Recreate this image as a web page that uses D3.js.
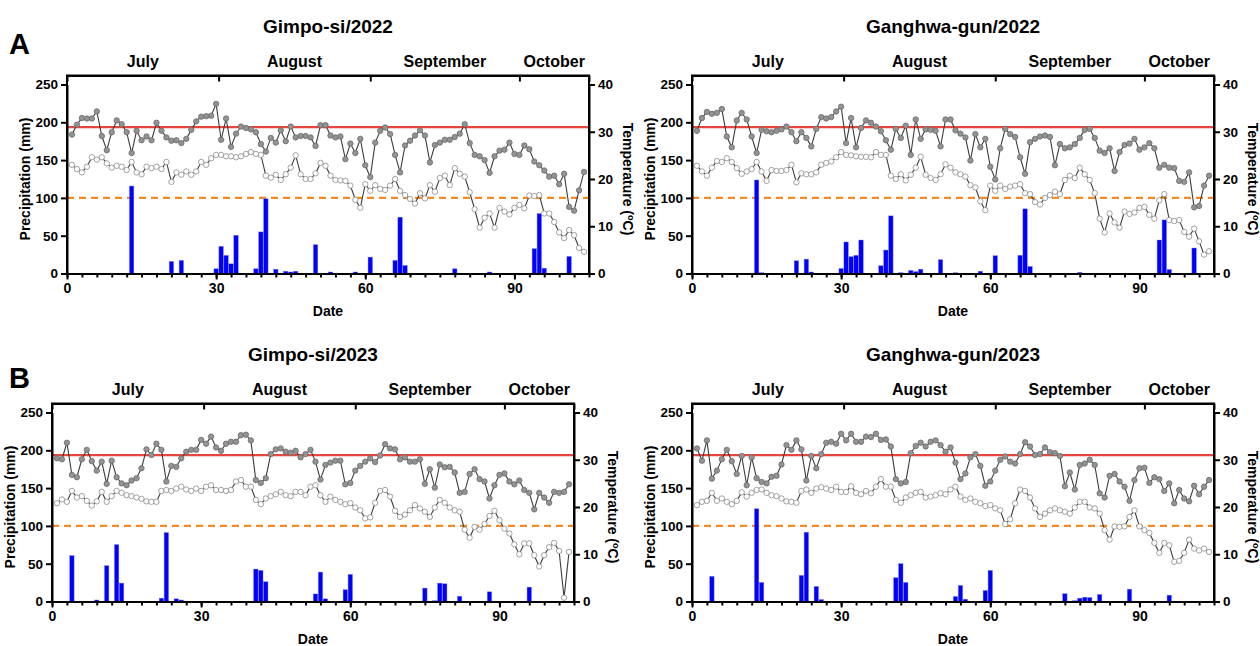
<!DOCTYPE html>
<html>
<head>
<meta charset="utf-8">
<script src="https://cdn.jsdelivr.net/npm/d3@7"></script>
<style>
  body { margin: 0; background: #fff; }
  svg { display: block; font-family: "Liberation Sans", Arial, sans-serif; font-weight: bold; }
  .axis path, .axis line { stroke: #000; stroke-width: 2; }
  .axis text { font-size: 13.5px; font-weight: bold; fill: #000; font-family: "Liberation Sans", Arial, sans-serif; }
</style>
</head>
<body>
<svg id="chart" width="1260" height="646"></svg>
<script>
// ---- data, day 1 = July 1 ----
var titles = ['Gimpo-si/2022', 'Ganghwa-gun/2022', 'Gimpo-si/2023', 'Ganghwa-gun/2023'];
var months = ['July', 'August', 'September', 'October'];
var monthTicks = [0, 30.5, 61, 91, 105];
var precipTicks = [0, 50, 100, 150, 200, 250];
var tempTicks = [0, 10, 20, 30, 40];
var dateTicks = [0, 30, 60, 90];
var tempLimit = 31;      // red line (°C)
var precipLimit = 100;   // orange dashed (mm)

var gimpo22Tmax = [29.4, 31.5, 32.9, 32.8, 32.8, 34.3, 29.1, 26.1, 29.9, 32.4,
  31.6, 29.9, 25.5, 30.2, 28.2, 29.0, 28.2, 31.9, 30.2, 28.8,
  28.1, 28.2, 27.6, 28.5, 30.4, 32.2, 33.2, 33.3, 33.4, 35.9,
  28.3, 32.8, 26.8, 29.6, 31.1, 30.8, 30.5, 29.9, 27.4, 25.8,
  28.7, 27.7, 30.3, 28.0, 31.1, 28.8, 29.1, 29.1, 28.8, 27.0,
  31.4, 31.4, 29.2, 28.8, 29.0, 24.2, 27.5, 25.5, 28.5, 22.9,
  20.4, 27.7, 30.2, 30.9, 29.5, 25.1, 21.4, 27.1, 28.1, 29.2,
  30.3, 29.2, 23.5, 27.2, 27.7, 28.3, 28.3, 28.9, 29.6, 31.6,
  27.6, 25.1, 24.8, 24.0, 21.3, 24.8, 26.0, 26.2, 27.7, 25.3,
  25.1, 27.1, 26.3, 23.7, 22.9, 21.8, 20.5, 20.7, 18.9, 21.1,
  14.1, 13.3, 17.6, 21.5];
var gimpo22Tmin = [23.0, 22.1, 21.4, 22.6, 24.6, 24.1, 24.6, 23.3, 22.4, 22.8,
  22.6, 21.9, 23.6, 21.4, 21.0, 22.6, 22.3, 22.6, 22.1, 23.6,
  19.4, 21.4, 20.9, 21.6, 20.9, 21.6, 23.6, 23.0, 24.4, 25.1,
  25.1, 24.8, 24.8, 24.6, 24.8, 25.3, 25.7, 25.3, 25.1, 20.7,
  20.3, 20.9, 19.8, 21.0, 22.4, 25.0, 21.0, 20.0, 20.0, 21.2,
  23.4, 22.8, 20.7, 19.8, 19.7, 19.6, 18.6, 15.6, 13.9, 18.9,
  17.5, 18.7, 17.9, 17.7, 18.6, 20.0, 17.5, 16.6, 15.8, 14.8,
  17.0, 15.9, 18.7, 17.3, 20.2, 20.7, 18.7, 22.3, 21.1, 20.5,
  17.2, 13.6, 9.7, 11.8, 12.7, 9.7, 13.9, 13.1, 12.5, 13.9,
  14.5, 13.8, 16.5, 16.4, 16.6, 12.7, 12.7, 10.9, 8.7, 7.5,
  9.2, 8.1, 5.4, 4.6];
var gimpo22RainDays = [13, 21, 23, 30, 31, 32, 33, 34, 38, 39, 40, 42, 44, 45, 46, 50, 53, 58, 61, 66, 67, 68, 78, 85, 94, 95, 96, 101];
var gimpo22Rain = [115.7, 15.9, 17.3, 6.2, 35.9, 23.9, 12.8, 50.5, 6.2, 55.0, 98.8, 5.7, 3.0, 2.0, 3.0, 38.1, 2.0, 2.0, 21.7, 17.3, 74.5, 10.6, 6.2, 2.0, 32.8, 79.3, 7.0, 22.6];

var ganghwa22Tmax = [30.2, 32.9, 34.2, 33.8, 34.0, 34.8, 29.0, 26.7, 32.4, 34.0,
  32.6, 29.0, 25.5, 30.4, 30.1, 29.9, 30.2, 30.5, 31.1, 29.9,
  28.0, 29.9, 28.7, 26.9, 30.6, 33.1, 32.8, 33.1, 34.3, 35.3,
  27.6, 32.9, 26.7, 30.8, 32.4, 31.9, 31.1, 30.1, 28.2, 26.2,
  30.6, 28.7, 31.3, 25.1, 32.6, 28.5, 30.5, 30.4, 30.2, 26.9,
  32.6, 32.6, 30.3, 29.6, 28.8, 23.9, 29.5, 26.7, 28.5, 22.6,
  19.9, 26.5, 30.6, 29.5, 28.9, 24.6, 21.1, 27.8, 28.5, 29.0,
  29.2, 28.9, 22.9, 27.4, 26.5, 26.7, 27.4, 28.7, 30.4, 30.6,
  28.7, 26.0, 25.5, 26.5, 21.7, 25.7, 27.2, 27.5, 28.5, 26.2,
  26.7, 27.6, 26.5, 22.4, 23.0, 22.4, 22.3, 19.6, 19.4, 21.4,
  14.0, 14.3, 18.6, 20.7];
var ganghwa22Tmin = [22.8, 21.6, 20.7, 22.4, 23.8, 23.6, 24.4, 23.6, 22.3, 21.1,
  21.6, 22.1, 23.6, 21.6, 19.6, 21.9, 21.7, 21.7, 21.9, 23.0,
  19.3, 21.2, 21.0, 21.0, 21.4, 23.0, 23.4, 23.7, 24.6, 25.7,
  25.1, 25.0, 24.8, 24.7, 24.7, 24.6, 25.7, 25.1, 25.1, 20.7,
  20.0, 21.0, 19.7, 20.9, 22.4, 24.7, 20.9, 20.2, 19.8, 21.0,
  23.1, 22.4, 21.4, 21.0, 20.5, 18.7, 18.2, 15.3, 13.4, 18.6,
  17.5, 18.6, 17.9, 18.4, 18.6, 18.9, 17.0, 16.8, 15.1, 14.6,
  16.0, 16.6, 17.3, 16.8, 19.8, 20.7, 20.2, 22.4, 21.0, 19.8,
  17.0, 11.6, 8.7, 12.7, 10.8, 9.7, 13.1, 12.6, 12.9, 13.9,
  14.1, 12.4, 11.6, 15.5, 16.8, 11.3, 11.1, 11.3, 8.8, 7.8,
  9.5, 6.8, 4.0, 4.7];
var ganghwa22RainDays = [13, 14, 21, 23, 24, 30, 31, 32, 33, 34, 38, 39, 40, 42, 44, 45, 46, 50, 53, 58, 61, 66, 67, 68, 78, 94, 95, 96, 101];
var ganghwa22Rain = [123.7, 1.0, 16.8, 19.0, 2.0, 6.6, 41.7, 22.2, 24.0, 44.3, 10.2, 31.0, 76.2, 1.0, 4.0, 2.5, 5.7, 18.2, 1.0, 3.0, 23.5, 24.0, 85.5, 9.3, 1.5, 44.3, 70.9, 5.3, 33.7];

var gimpo23Tmax = [30.3, 30.1, 33.6, 26.8, 26.3, 30.1, 32.1, 29.7, 27.7, 29.6,
  24.9, 29.8, 26.3, 25.0, 24.6, 25.6, 26.1, 28.2, 32.2, 31.0,
  33.4, 32.1, 25.4, 28.7, 28.5, 30.3, 31.7, 32.1, 32.1, 34.2,
  33.4, 34.9, 32.6, 31.9, 33.4, 33.8, 33.8, 35.2, 35.3, 34.1,
  25.7, 25.1, 26.1, 31.2, 32.2, 32.4, 31.7, 31.5, 31.9, 30.5,
  31.2, 32.1, 29.6, 25.8, 28.9, 29.4, 29.8, 29.8, 24.8, 25.1,
  27.7, 28.7, 29.6, 30.3, 29.5, 30.9, 33.3, 32.4, 32.2, 30.1,
  30.5, 29.6, 29.6, 30.1, 24.9, 28.0, 24.1, 29.0, 28.4, 28.5,
  27.3, 23.0, 23.2, 27.0, 28.0, 25.9, 25.4, 21.8, 24.6, 26.8,
  27.1, 25.4, 24.8, 25.6, 23.6, 23.0, 19.5, 23.0, 22.0, 20.9,
  23.2, 23.0, 23.2, 24.8];
var gimpo23Tmin = [20.8, 21.6, 21.1, 23.4, 22.0, 22.3, 21.3, 20.3, 21.2, 23.2,
  21.1, 22.3, 23.4, 23.0, 22.5, 22.3, 22.0, 21.7, 21.2, 21.1,
  21.1, 23.4, 23.6, 23.4, 23.9, 24.3, 23.7, 23.4, 23.9, 23.4,
  24.3, 24.6, 23.6, 23.6, 23.4, 23.6, 25.4, 25.7, 24.3, 24.3,
  21.5, 20.6, 21.8, 22.3, 22.7, 23.2, 22.5, 22.3, 23.2, 23.2,
  22.5, 24.3, 24.6, 22.5, 21.1, 22.2, 21.5, 21.1, 20.6, 20.8,
  19.9, 19.3, 17.6, 17.8, 20.9, 23.4, 23.6, 22.2, 19.2, 17.9,
  18.4, 19.3, 20.4, 19.7, 19.0, 17.9, 19.9, 21.5, 20.9, 19.9,
  19.3, 19.0, 15.2, 13.5, 15.8, 15.2, 16.4, 18.1, 19.2, 17.2,
  15.4, 14.4, 12.1, 10.0, 12.3, 12.3, 9.8, 7.4, 9.8, 11.5,
  12.4, 10.7, 0.8, 10.5];
var gimpo23RainDays = [4, 9, 11, 13, 14, 22, 23, 25, 26, 41, 42, 43, 53, 54, 55, 59, 60, 75, 77, 78, 79, 82, 88, 96];
var gimpo23Rain = [60.6, 2.0, 47.3, 75.2, 24.3, 4.4, 91.1, 3.5, 2.0, 42.9, 41.1, 26.1, 10.0, 38.9, 3.5, 15.5, 35.8, 17.7, 1.0, 24.3, 23.4, 7.0, 12.8, 19.0];

var ganghwa23Tmax = [32.4, 29.8, 34.1, 26.0, 27.7, 30.1, 32.1, 29.7, 27.0, 30.8,
  24.6, 30.5, 26.1, 25.3, 25.0, 26.4, 26.6, 29.0, 33.1, 32.1,
  34.1, 32.2, 25.6, 30.8, 28.2, 31.2, 33.6, 33.8, 33.4, 35.5,
  34.1, 35.5, 33.8, 33.8, 34.9, 34.8, 35.5, 34.2, 34.3, 32.8,
  25.9, 25.0, 25.3, 31.4, 32.9, 33.6, 32.8, 33.8, 34.1, 33.1,
  31.7, 32.6, 29.4, 25.9, 27.1, 30.5, 31.2, 28.7, 24.5, 25.4,
  27.7, 30.0, 30.7, 29.6, 29.2, 31.2, 33.7, 32.8, 31.0, 31.2,
  32.6, 31.6, 31.4, 30.8, 24.4, 27.3, 23.7, 28.9, 29.2, 30.0,
  28.9, 22.9, 22.0, 26.6, 27.0, 25.4, 24.3, 21.3, 25.7, 28.2,
  28.3, 25.1, 26.3, 25.9, 23.4, 25.0, 20.8, 23.6, 21.8, 21.2,
  24.5, 22.7, 24.3, 25.7];
var ganghwa23Tmin = [20.4, 21.1, 21.3, 23.0, 21.3, 21.8, 21.1, 20.6, 21.3, 23.1,
  22.2, 23.0, 23.6, 23.7, 23.0, 22.5, 22.3, 21.8, 21.2, 21.1,
  20.9, 23.4, 23.7, 23.0, 23.9, 24.2, 23.9, 23.6, 24.3, 23.2,
  23.2, 24.4, 23.0, 22.7, 23.4, 22.9, 24.3, 25.9, 24.3, 24.3,
  21.5, 20.9, 22.0, 22.5, 23.0, 23.2, 22.0, 22.2, 22.5, 22.9,
  22.7, 23.7, 24.3, 22.2, 21.5, 21.8, 21.1, 20.8, 20.2, 20.4,
  19.7, 19.3, 16.4, 17.4, 20.8, 23.7, 23.4, 22.0, 19.7, 17.9,
  18.6, 19.3, 19.7, 19.3, 19.0, 18.6, 19.9, 21.1, 21.1, 19.9,
  19.7, 18.6, 15.1, 13.1, 15.9, 15.8, 15.9, 17.9, 19.3, 15.9,
  15.1, 14.5, 12.4, 10.3, 12.4, 11.9, 8.4, 8.6, 10.3, 13.1,
  11.2, 10.8, 11.2, 10.5];
var ganghwa23RainDays = [4, 13, 14, 22, 23, 25, 26, 41, 42, 43, 53, 54, 55, 59, 60, 75, 77, 78, 79, 80, 82, 88, 96];
var ganghwa23Rain = [33.2, 122.6, 25.2, 34.5, 91.6, 19.9, 2.6, 31.4, 50.0, 25.2, 6.6, 21.2, 3.0, 14.6, 41.1, 10.2, 1.0, 4.4, 5.7, 5.3, 9.3, 16.3, 8.4];

// ---- layout of the four panels ----
var layout = [
  {left: 67,  bottom: 273.5, tag: 'A', tagY: 54},
  {left: 692, bottom: 273.5, tag: null},
  {left: 52,  bottom: 601.5, tag: 'B', tagY: 388},
  {left: 692, bottom: 601.5, tag: null}
];
var series = [
  {tmax: gimpo22Tmax, tmin: gimpo22Tmin, rainDays: gimpo22RainDays, rain: gimpo22Rain},
  {tmax: ganghwa22Tmax, tmin: ganghwa22Tmin, rainDays: ganghwa22RainDays, rain: ganghwa22Rain},
  {tmax: gimpo23Tmax, tmin: gimpo23Tmin, rainDays: gimpo23RainDays, rain: gimpo23Rain},
  {tmax: ganghwa23Tmax, tmin: ganghwa23Tmin, rainDays: ganghwa23RainDays, rain: ganghwa23Rain}
];

var svg = d3.select('#chart');
var plotW = 522, plotH = 189;

function drawPanel(i) {
    var L = layout[i], S = series[i];
    var g = svg.append('g');
    var x = d3.scaleLinear().domain([0, 105]).range([L.left, L.left + plotW]);
    var yP = d3.scaleLinear().domain([0, 250]).range([L.bottom, L.bottom - plotH]);
    var yT = d3.scaleLinear().domain([0, 40]).range([L.bottom, L.bottom - plotH]);
    var top = L.bottom - plotH - 9;
    var right = x(105);

    // reference lines
    g.append('line')
        .attr('x1', x(0)).attr('x2', right)
        .attr('y1', yT(tempLimit)).attr('y2', yT(tempLimit))
        .attr('stroke', '#e8453c').attr('stroke-width', 2.2);
    g.append('line')
        .attr('x1', x(0)).attr('x2', right)
        .attr('y1', yP(precipLimit)).attr('y2', yP(precipLimit))
        .attr('stroke', '#f58a1f').attr('stroke-width', 2.2)
        .attr('stroke-dasharray', '7,5');

    // precipitation bars
    var rain = S.rainDays.map(function(d, k) { return {day: d, v: S.rain[k]}; });
    g.selectAll('.bar').data(rain).enter().append('rect')
        .attr('class', 'bar')
        .attr('x', function(d) { return x(d.day) - 2.2; })
        .attr('width', 4.4)
        .attr('y', function(d) { return yP(d.v); })
        .attr('height', function(d) { return yP(0) - yP(d.v); })
        .attr('fill', '#0000ff')
        .attr('stroke', '#6f6fff').attr('stroke-width', 0.4);

    // temperature series
    var line = d3.line()
        .x(function(d, k) { return x(k + 1); })
        .y(function(d) { return yT(d); });
    [['tmin', '#fff', '#8a8a8a'], ['tmax', '#939393', '#6a6a6a']].forEach(function(s) {
        var vals = S[s[0]];
        g.append('path').attr('d', line(vals))
            .attr('fill', 'none').attr('stroke', '#3c3c3c').attr('stroke-width', 1.1);
        g.selectAll('.pt-' + s[0]).data(vals).enter().append('circle')
            .attr('class', 'pt-' + s[0])
            .attr('cx', function(d, k) { return x(k + 1); })
            .attr('cy', function(d) { return yT(d); })
            .attr('r', 2.7)
            .attr('fill', s[1]).attr('stroke', s[2]).attr('stroke-width', 0.8);
    });

    // axes
    g.append('g').attr('class', 'axis')
        .attr('transform', 'translate(0,' + L.bottom + ')')
        .call(d3.axisBottom(x).tickValues(d3.range(0, 106, 3)).tickSize(4).tickFormat(''))
        .select('.domain').remove();
    g.append('g').attr('class', 'axis')
        .attr('transform', 'translate(0,' + L.bottom + ')')
        .call(d3.axisBottom(x).tickValues(dateTicks).tickSize(6).tickSizeOuter(0).tickPadding(4))
        .selectAll('text').style('font-size', '14px');
    g.append('g').attr('class', 'axis')
        .attr('transform', 'translate(' + L.left + ',0)')
        .call(d3.axisLeft(yP).tickValues(precipTicks).tickSize(6).tickSizeOuter(0).tickPadding(3));
    g.append('g').attr('class', 'axis')
        .attr('transform', 'translate(' + right + ',0)')
        .call(d3.axisRight(yT).tickValues(tempTicks).tickSize(6).tickSizeOuter(0).tickPadding(3));
    g.append('g').attr('class', 'axis')
        .attr('transform', 'translate(0,' + top + ')')
        .call(d3.axisBottom(x).tickValues(monthTicks).tickSize(6).tickSizeOuter(0).tickFormat(''));

    // frame sides up to the top line
    g.append('path')
        .attr('d', 'M' + L.left + ',' + L.bottom + 'V' + top + 'H' + right + 'V' + L.bottom)
        .attr('fill', 'none').attr('stroke', '#000').attr('stroke-width', 2);

    // month labels
    g.selectAll('.month').data(months).enter().append('text')
        .attr('x', function(d, k) { return x((monthTicks[k] + monthTicks[k + 1]) / 2); })
        .attr('y', top - 9)
        .attr('text-anchor', 'middle').style('font-size', '16px')
        .text(function(d) { return d; });

    // titles and axis labels
    var cx = (L.left + right) / 2, cy = (L.bottom + yP(250)) / 2;
    g.append('text').attr('x', cx).attr('y', top - 43)
        .attr('text-anchor', 'middle').style('font-size', '19px')
        .text(titles[i]);
    g.append('text').attr('x', cx).attr('y', L.bottom + 42)
        .attr('text-anchor', 'middle').style('font-size', '14px')
        .text('Date');
    g.append('text')
        .attr('transform', 'translate(' + (L.left - 37) + ',' + cy + ') rotate(-90)')
        .attr('text-anchor', 'middle').style('font-size', '14px')
        .text('Precipitation (mm)');
    var tl = g.append('text')
        .attr('transform', 'translate(' + (right + 34) + ',' + cy + ') rotate(90)')
        .attr('text-anchor', 'middle').style('font-size', '14px');
    tl.append('tspan').text('Temperature (');
    tl.append('tspan').attr('dy', -5).style('font-size', '9px').text('o');
    tl.append('tspan').attr('dy', 5).text('C)');

    if (L.tag) {
        g.append('text').attr('x', 9).attr('y', L.tagY)
            .style('font-size', '29px').text(L.tag);
    }
}

for (var i = 0; i < 4; ++i) { drawPanel(i); }
</script>
</body>
</html>
